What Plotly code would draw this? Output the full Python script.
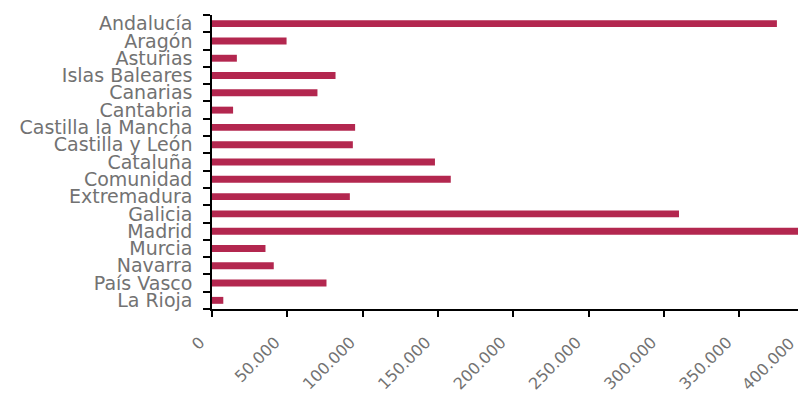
import plotly.graph_objects as go

regions = ["Andalucía", "Aragón", "Asturias", "Islas Baleares", "Canarias", "Cantabria",
           "Castilla la Mancha", "Castilla y León", "Cataluña", "Comunidad", "Extremadura",
           "Galicia", "Madrid", "Murcia", "Navarra", "País Vasco", "La Rioja"]
values = [375000, 49500, 16500, 82000, 70000, 14000, 95000, 93500, 148000, 158500,
          91500, 310000, 402000, 35500, 41000, 76000, 7500]
tick_vals = [0, 50000, 100000, 150000, 200000, 250000, 300000, 350000, 400000]
tick_text = ["0", "50.000", "100.000", "150.000", "200.000", "250.000", "300.000", "350.000", "400.000"]
x_max = 389000

gray = "#727272"
fam = "DejaVu Sans"
fig = go.Figure(go.Bar(
    x=values, y=regions, orientation="h",
    marker=dict(color="#B3274F", line=dict(width=0)),
))

fig.update_layout(
    width=790, height=387,
    margin=dict(l=204, r=0, t=7, b=86),
    paper_bgcolor="white", plot_bgcolor="white",
    bargap=0.6, showlegend=False,
    font=dict(family=fam, color=gray),
)
fig.update_yaxes(
    autorange="reversed", type="category", automargin=False,
    tickmode="array", tickvals=regions, ticktext=regions,
    showline=True, linecolor="black", linewidth=1.5,
    ticks="outside", tickson="boundaries", ticklen=7, tickcolor="black", tickwidth=1.5,
    tickfont=dict(size=19, color=gray, family=fam), showgrid=False,
    ticklabelstandoff=14,
)
fig.update_xaxes(
    range=[0, x_max], automargin=False,
    tickvals=tick_vals[:-1], ticktext=tick_text[:-1], tickangle=-45,
    showline=True, linecolor="black", linewidth=1.5,
    ticks="outside", ticklen=6, tickcolor="black", tickwidth=1.5,
    tickfont=dict(size=16, color=gray, family=fam), showgrid=False, zeroline=False,
    ticklabelstandoff=10, ticklabelshift=-12,
)
fig.add_annotation(
    x=tick_vals[-1] / x_max, y=0, xref="paper", yref="paper",
    text=tick_text[-1], textangle=-45, showarrow=False,
    xanchor="center", yanchor="middle", xshift=-47, yshift=-55,
    font=dict(size=16, color=gray, family=fam),
)
fig.write_html("out.html")
